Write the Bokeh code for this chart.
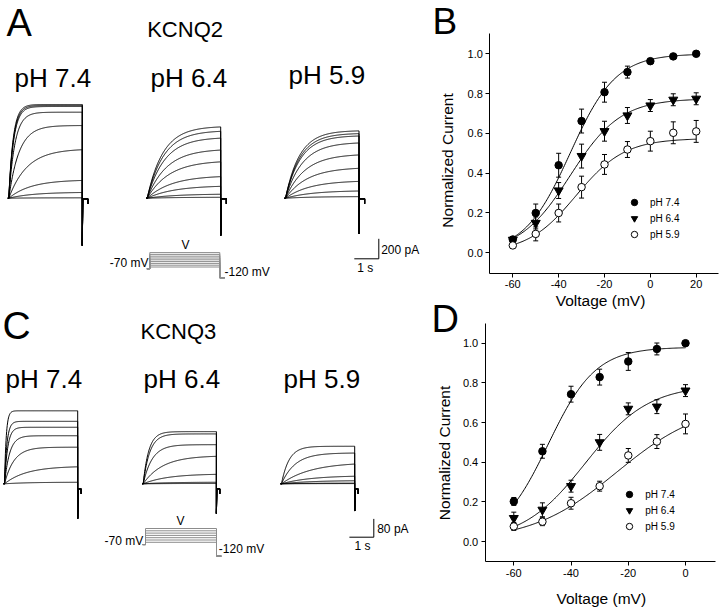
import numpy as np
from bokeh.plotting import figure
from bokeh.models import (Range1d, Label, Legend, LegendItem, FixedTicker,
                          NumeralTickFormatter, LinearAxis)
from bokeh.layouts import row, column
from bokeh.embed import file_html
from bokeh.resources import INLINE
from bokeh.core.properties import value

FONT = "Liberation Sans"

# ---------------- data ----------------
ph_labels = ["pH 7.4", "pH 6.4", "pH 5.9"]
step_duration_s = 3.0
holding_mv = -70
tail_mv = -120

# Panel A: KCNQ2 current traces (steady-state amplitude pA, activation tau s)
kcnq2_step_mv = [-60, -50, -40, -30, -20, -10, 0, 10, 20]
kcnq2_amp_pH74 = [4, 60, 184, 494, 727, 860, 917, 927, 937]
kcnq2_tau_pH74 = [1.0, 1.0, 0.9, 0.75, 0.42, 0.25, 0.2, 0.19, 0.18]
kcnq2_amp_pH64 = [10, 43, 127, 227, 377, 493, 610, 677, 720]
kcnq2_tau_pH64 = [1.3, 1.2, 1.1, 1.0, 0.9, 0.8, 0.72, 0.68, 0.65]
kcnq2_amp_pH59 = [17, 77, 177, 310, 443, 560, 627, 650, 677]
kcnq2_tau_pH59 = [1.2, 1.1, 1.0, 0.9, 0.8, 0.7, 0.62, 0.6, 0.58]
kcnq2_tail_pa = [-473, -373, -356]
kcnq2_hook_pa = [-6, -56]
kcnq2_scale_pa = 200
scale_time_s = 1

# Panel C: KCNQ3 current traces
kcnq3_step_mv = [-60, -50, -40, -30, -20, -10, 0]
kcnq3_amp_pH74 = [7, 77, 160, 210, 247, 273, 319]
kcnq3_tau_pH74 = [1.0, 0.9, 0.39, 0.21, 0.13, 0.1, 0.07]
kcnq3_amp_pH64 = [1.5, 7, 43.5, 123, 171, 218, 228]
kcnq3_tau_pH64 = [1.0, 1.0, 1.0, 0.8, 0.37, 0.27, 0.23]
kcnq3_amp_pH59 = [1, 3, 14.5, 36, 94, 135, 164]
kcnq3_tau_pH59 = [1.0, 1.0, 1.2, 1.2, 1.2, 0.56, 0.31]
kcnq3_tail_pa = [-152, -130, -119]
kcnq3_hook_pa = [-22, -44]
kcnq3_scale_pa = 80

# Panel B: KCNQ2 normalized current vs voltage
b_voltage = [-60, -50, -40, -30, -20, -10, 0, 10, 20]
b_pH74 = [0.067, 0.20, 0.44, 0.662, 0.807, 0.908, 0.963, 0.987, 1.0]
b_pH74_err = [0.01, 0.045, 0.06, 0.06, 0.05, 0.03, 0.012, 0.01, 0.005]
b_pH64 = [0.065, 0.15, 0.313, 0.486, 0.611, 0.69, 0.74, 0.769, 0.774]
b_pH64_err = [0.012, 0.03, 0.04, 0.06, 0.05, 0.04, 0.03, 0.03, 0.03]
b_pH59 = [0.037, 0.095, 0.20, 0.33, 0.444, 0.519, 0.561, 0.603, 0.61]
b_pH59_err = [0.01, 0.035, 0.045, 0.055, 0.05, 0.04, 0.05, 0.055, 0.055]
b_fit_imax = [1.0, 0.775, 0.575]
b_fit_vhalf = [-35, -35, -32.4]
b_fit_slope = [10, 11, 10.6]

# Panel D: KCNQ3 normalized current vs voltage
d_voltage = [-60, -50, -40, -30, -20, -10, 0]
d_pH74 = [0.202, 0.455, 0.743, 0.829, 0.908, 0.971, 1.0]
d_pH74_err = [0.02, 0.035, 0.04, 0.04, 0.045, 0.03, 0.005]
d_pH64 = [0.118, 0.16, 0.279, 0.5, 0.669, 0.68, 0.761]
d_pH64_err = [0.03, 0.035, 0.03, 0.04, 0.03, 0.035, 0.03]
d_pH59 = [0.076, 0.1, 0.193, 0.279, 0.434, 0.504, 0.593]
d_pH59_err = [0.02, 0.02, 0.03, 0.025, 0.035, 0.035, 0.05]
d_fit_imax = [0.98, 0.79, 0.70]
d_fit_vhalf = [-48, -35, -24]
d_fit_slope = [8.3, 11, 15]

xticks_b = [-60, -40, -20, 0, 20]
xticks_d = [-60, -40, -20, 0]
yticks = [0.0, 0.2, 0.4, 0.6, 0.8, 1.0]


# ---------------- helpers ----------------
def bare_fig(w, h, xr, yr, extra_mv):
    p = figure(width=w, height=h, x_range=xr, y_range=yr, x_axis_type=None,
               y_axis_type=None, min_border=0, min_border_left=0, min_border_right=0,
               min_border_top=0, min_border_bottom=0, toolbar_location=None,
               output_backend="svg", title=None)
    p.extra_y_ranges = {"mv": extra_mv}
    p.outline_line_color = None
    p.background_fill_color = "white"
    return p


def draw_traces(p, amps, taus, t0, tail_pa, hook, hook_len):
    t = np.linspace(0, step_duration_s, 240)
    te = t0 + step_duration_s
    xs, ys = [], []
    for a, tau in zip(amps, taus):
        xs.append(np.concatenate([[t0 - 0.04], t0 + t,
                                  [te, te + 0.02, te + hook_len, te + hook_len]]))
        ys.append(np.concatenate([[0.0], a * (1 - np.exp(-t / tau)),
                                  [tail_pa, hook[0], hook[0], hook[1]]]))
    p.multi_line(xs, ys, line_color="black", line_width=1)


def draw_protocol(p, steps, t0, dur, pre, post):
    xs = [[t0 - pre, t0, t0, t0 + dur, t0 + dur, t0 + dur + post] for _ in steps]
    ys = [[holding_mv, holding_mv, v, v, tail_mv, tail_mv] for v in steps]
    p.multi_line(xs, ys, y_range_name="mv", line_color="#8c8c8c", line_width=1)


def put_text(p, x, y, s, size, align="left"):
    # y is the vertical centre of the text
    p.text(x=[x], y=[y], text=[s], text_font=value(FONT), text_font_size=size,
           text_align=align, text_baseline="middle", text_color="black")


# ---------------- Panel A (page x 0..430, y 0..300) ----------------
AX = lambda px: (px - 8.3) / 24.5
AY = lambda py: (197.7 - py) * 10.0
AMV = lambda py: holding_mv + (268.3 - py) / 0.18

figA = bare_fig(430, 300, Range1d(AX(0), AX(430)), Range1d(AY(300), AY(0)),
                Range1d(AMV(300), AMV(0)))
a_starts = [0.0, AX(146.7), AX(285.0)]
for amps, taus, t0, tl in zip([kcnq2_amp_pH74, kcnq2_amp_pH64, kcnq2_amp_pH59],
                              [kcnq2_tau_pH74, kcnq2_tau_pH64, kcnq2_tau_pH59],
                              a_starts, kcnq2_tail_pa):
    draw_traces(figA, amps, taus, t0, tl, kcnq2_hook_pa, 0.23)
draw_protocol(figA, kcnq2_step_mv, AX(149.3), (219.3 - 149.3) / 24.5, 0.12, 0.2)
cxA, cyA = AX(378.3), AY(258.3)
figA.line([cxA - scale_time_s, cxA, cxA], [cyA, cyA, cyA + kcnq2_scale_pa],
          line_color="black", line_width=1)
put_text(figA, AX(6), AY(22), "A", "38px")
put_text(figA, AX(146.7), AY(29.2), "KCNQ2", "22px")
for lab, px, py in zip(ph_labels, [14, 150, 288], [77.5, 77.5, 74.3]):
    put_text(figA, AX(px), AY(py), lab, "26px")
put_text(figA, AX(185), AY(244), "V", "12px", "center")
put_text(figA, AX(148), AY(262), "-70 mV", "12px", "right")
put_text(figA, AX(224), AY(271), "-120 mV", "12px", "left")
put_text(figA, AX(380.7), AY(249), "200 pA", "12px", "left")
put_text(figA, AX(356.7), AY(267.7), "1 s", "12px", "left")

# ---------------- Panel C (page x 0..430, y 300..612) ----------------
CX = lambda px: (px - 4) / 24.4
CY = lambda py: (483.3 - py) * 4.37
CMV = lambda py: (528 - py) / 0.23

figC = bare_fig(430, 312, Range1d(CX(0), CX(430)), Range1d(CY(612), CY(300)),
                Range1d(CMV(612), CMV(300)))
c_starts = [0.0, CX(142.7), CX(281.0)]
for amps, taus, t0, tl in zip([kcnq3_amp_pH74, kcnq3_amp_pH64, kcnq3_amp_pH59],
                              [kcnq3_tau_pH74, kcnq3_tau_pH64, kcnq3_tau_pH59],
                              c_starts, kcnq3_tail_pa):
    draw_traces(figC, amps, taus, t0, tl, kcnq3_hook_pa, 0.14)
draw_protocol(figC, kcnq3_step_mv, CX(145), (216 - 145) / 24.4, 0.12, 0.2)
cxC, cyC = CX(373.3), CY(536.7)
figC.line([cxC - scale_time_s, cxC, cxC], [cyC, cyC, cyC + kcnq3_scale_pa],
          line_color="black", line_width=1)
put_text(figC, CX(2), CY(324.5), "C", "39px")
put_text(figC, CX(140), CY(330.5), "KCNQ3", "22px")
for lab, px in zip(ph_labels, [5, 143, 283]):
    put_text(figC, CX(px), CY(378.5), lab, "26px")
put_text(figC, CX(180), CY(520), "V", "12px", "center")
put_text(figC, CX(142.7), CY(540), "-70 mV", "12px", "right")
put_text(figC, CX(218.3), CY(548.3), "-120 mV", "12px", "left")
put_text(figC, CX(376.7), CY(528.3), "80 pA", "12px", "left")
put_text(figC, CX(354), CY(545), "1 s", "12px", "left")


# ---------------- Panels B and D: one canvas page x 430..720, y 0..612 ----------------
figR = figure(width=290, height=612, x_range=Range1d(-95.90, 30.60),
              y_range=Range1d(-1.8075, 1.2678), min_border=0, min_border_left=0,
              min_border_right=0, min_border_top=0, min_border_bottom=0,
              toolbar_location=None, output_backend="svg", title=None)
figR.extra_x_ranges = {"dx": Range1d(-89.11, 12.23)}
figR.extra_y_ranges = {"dy": Range1d(-0.358, 2.7282)}
figR.grid.visible = False
figR.outline_line_color = None

xD = LinearAxis(x_range_name="dx", y_range_name="dy")
yD = LinearAxis(x_range_name="dx", y_range_name="dy")
figR.add_layout(xD, "below")
figR.add_layout(yD, "left")


def style_axis(ax, ticks, fmt, loc, bounds):
    ax.axis_line_color = "black"
    ax.axis_line_width = 1
    ax.major_tick_out = 4
    ax.major_tick_in = 0
    ax.minor_tick_out = 0
    ax.minor_tick_in = 0
    ax.major_tick_line_color = "black"
    ax.major_label_text_font = FONT
    ax.major_label_text_font_size = "11px"
    ax.major_label_text_color = "black"
    ax.major_label_standoff = 3
    ax.ticker = FixedTicker(ticks=ticks)
    ax.formatter = NumeralTickFormatter(format=fmt)
    ax.fixed_location = loc
    ax.bounds = bounds


xB, yB = figR.xaxis[0], figR.yaxis[0]
style_axis(xB, xticks_b, "0", -0.104, (-70, 29.7))
style_axis(yB, yticks, "0.0", -70, (-0.104, 1.102))
style_axis(xD, xticks_d, "0", -0.101, (-70, 10.5))
style_axis(yD, yticks, "0.0", -70, (-0.101, 1.099))


def draw_iv(p, volts, series, errs, imaxs, vhalfs, slopes, vmin, vmax, **rk):
    vv = np.linspace(vmin, vmax, 200)
    for im, vh, k in zip(imaxs, vhalfs, slopes):
        p.line(vv, im / (1 + np.exp((vh - vv) / k)), line_color="black", line_width=1, **rk)
    for ys, es in zip(series, errs):
        lo = [y - e for y, e in zip(ys, es)]
        hi = [y + e for y, e in zip(ys, es)]
        p.segment(volts, lo, volts, hi, line_color="black", line_width=1, **rk)
        p.scatter(volts, hi, marker="dash", size=5, line_color="black", **rk)
        p.scatter(volts, lo, marker="dash", size=5, line_color="black", **rk)
    styles = [("circle", 7.5, "black"), ("inverted_triangle", 9, "black"),
              ("circle", 7.5, "white")]
    rends = []
    for ys, (mk, sz, fc) in zip(series, styles):
        rends.append(p.scatter(volts, ys, marker=mk, size=sz, fill_color=fc,
                               line_color="black", line_width=1, **rk))
    return rends


def add_legend(p, rends, loc, gh):
    leg = Legend(items=[LegendItem(label=l, renderers=[r]) for l, r in zip(ph_labels, rends)],
                 location=loc, glyph_width=20, glyph_height=gh, label_height=gh,
                 spacing=0, padding=0, margin=0, label_standoff=6,
                 label_text_font=FONT, label_text_font_size="10px",
                 label_text_color="black",
                 border_line_alpha=0, background_fill_alpha=0)
    p.add_layout(leg)


RB = 612  # frame bottom (page y) for screen-unit labels


def add_label(p, px, py, s, size, align="left", angle=0.0):
    # px, py: page pixel position of the text's anchor / vertical centre
    p.add_layout(Label(x=px - 430, y=RB - py, x_units="screen", y_units="screen", text=s,
                       text_font=FONT, text_font_size=size, text_align=align,
                       text_baseline="middle", angle=angle, text_color="black"))


rB = draw_iv(figR, b_voltage, [b_pH74, b_pH64, b_pH59], [b_pH74_err, b_pH64_err, b_pH59_err],
             b_fit_imax, b_fit_vhalf, b_fit_slope, -60, 20)
rD = draw_iv(figR, d_voltage, [d_pH74, d_pH64, d_pH59], [d_pH74_err, d_pH64_err, d_pH59_err],
             d_fit_imax, d_fit_vhalf, d_fit_slope, -60, 0, x_range_name="dx", y_range_name="dy")
add_legend(figR, rB, (194, RB - 242), 16)
add_legend(figR, rD, (189.3, RB - 534.3), 16)

add_label(figR, 432, 21, "B", "37px")
add_label(figR, 600, 299.5, "Voltage (mV)", "15.5px", "center")
add_label(figR, 446.7, 160, "Normalized Current", "15.5px", "center", np.pi / 2)
add_label(figR, 431, 318.5, "D", "38px")
add_label(figR, 600.8, 598, "Voltage (mV)", "15.5px", "center")
add_label(figR, 444, 452.5, "Normalized Current", "15.5px", "center", np.pi / 2)

layout = row(column(figA, figC), figR)
open("out.html", "w").write(file_html(layout, INLINE))
